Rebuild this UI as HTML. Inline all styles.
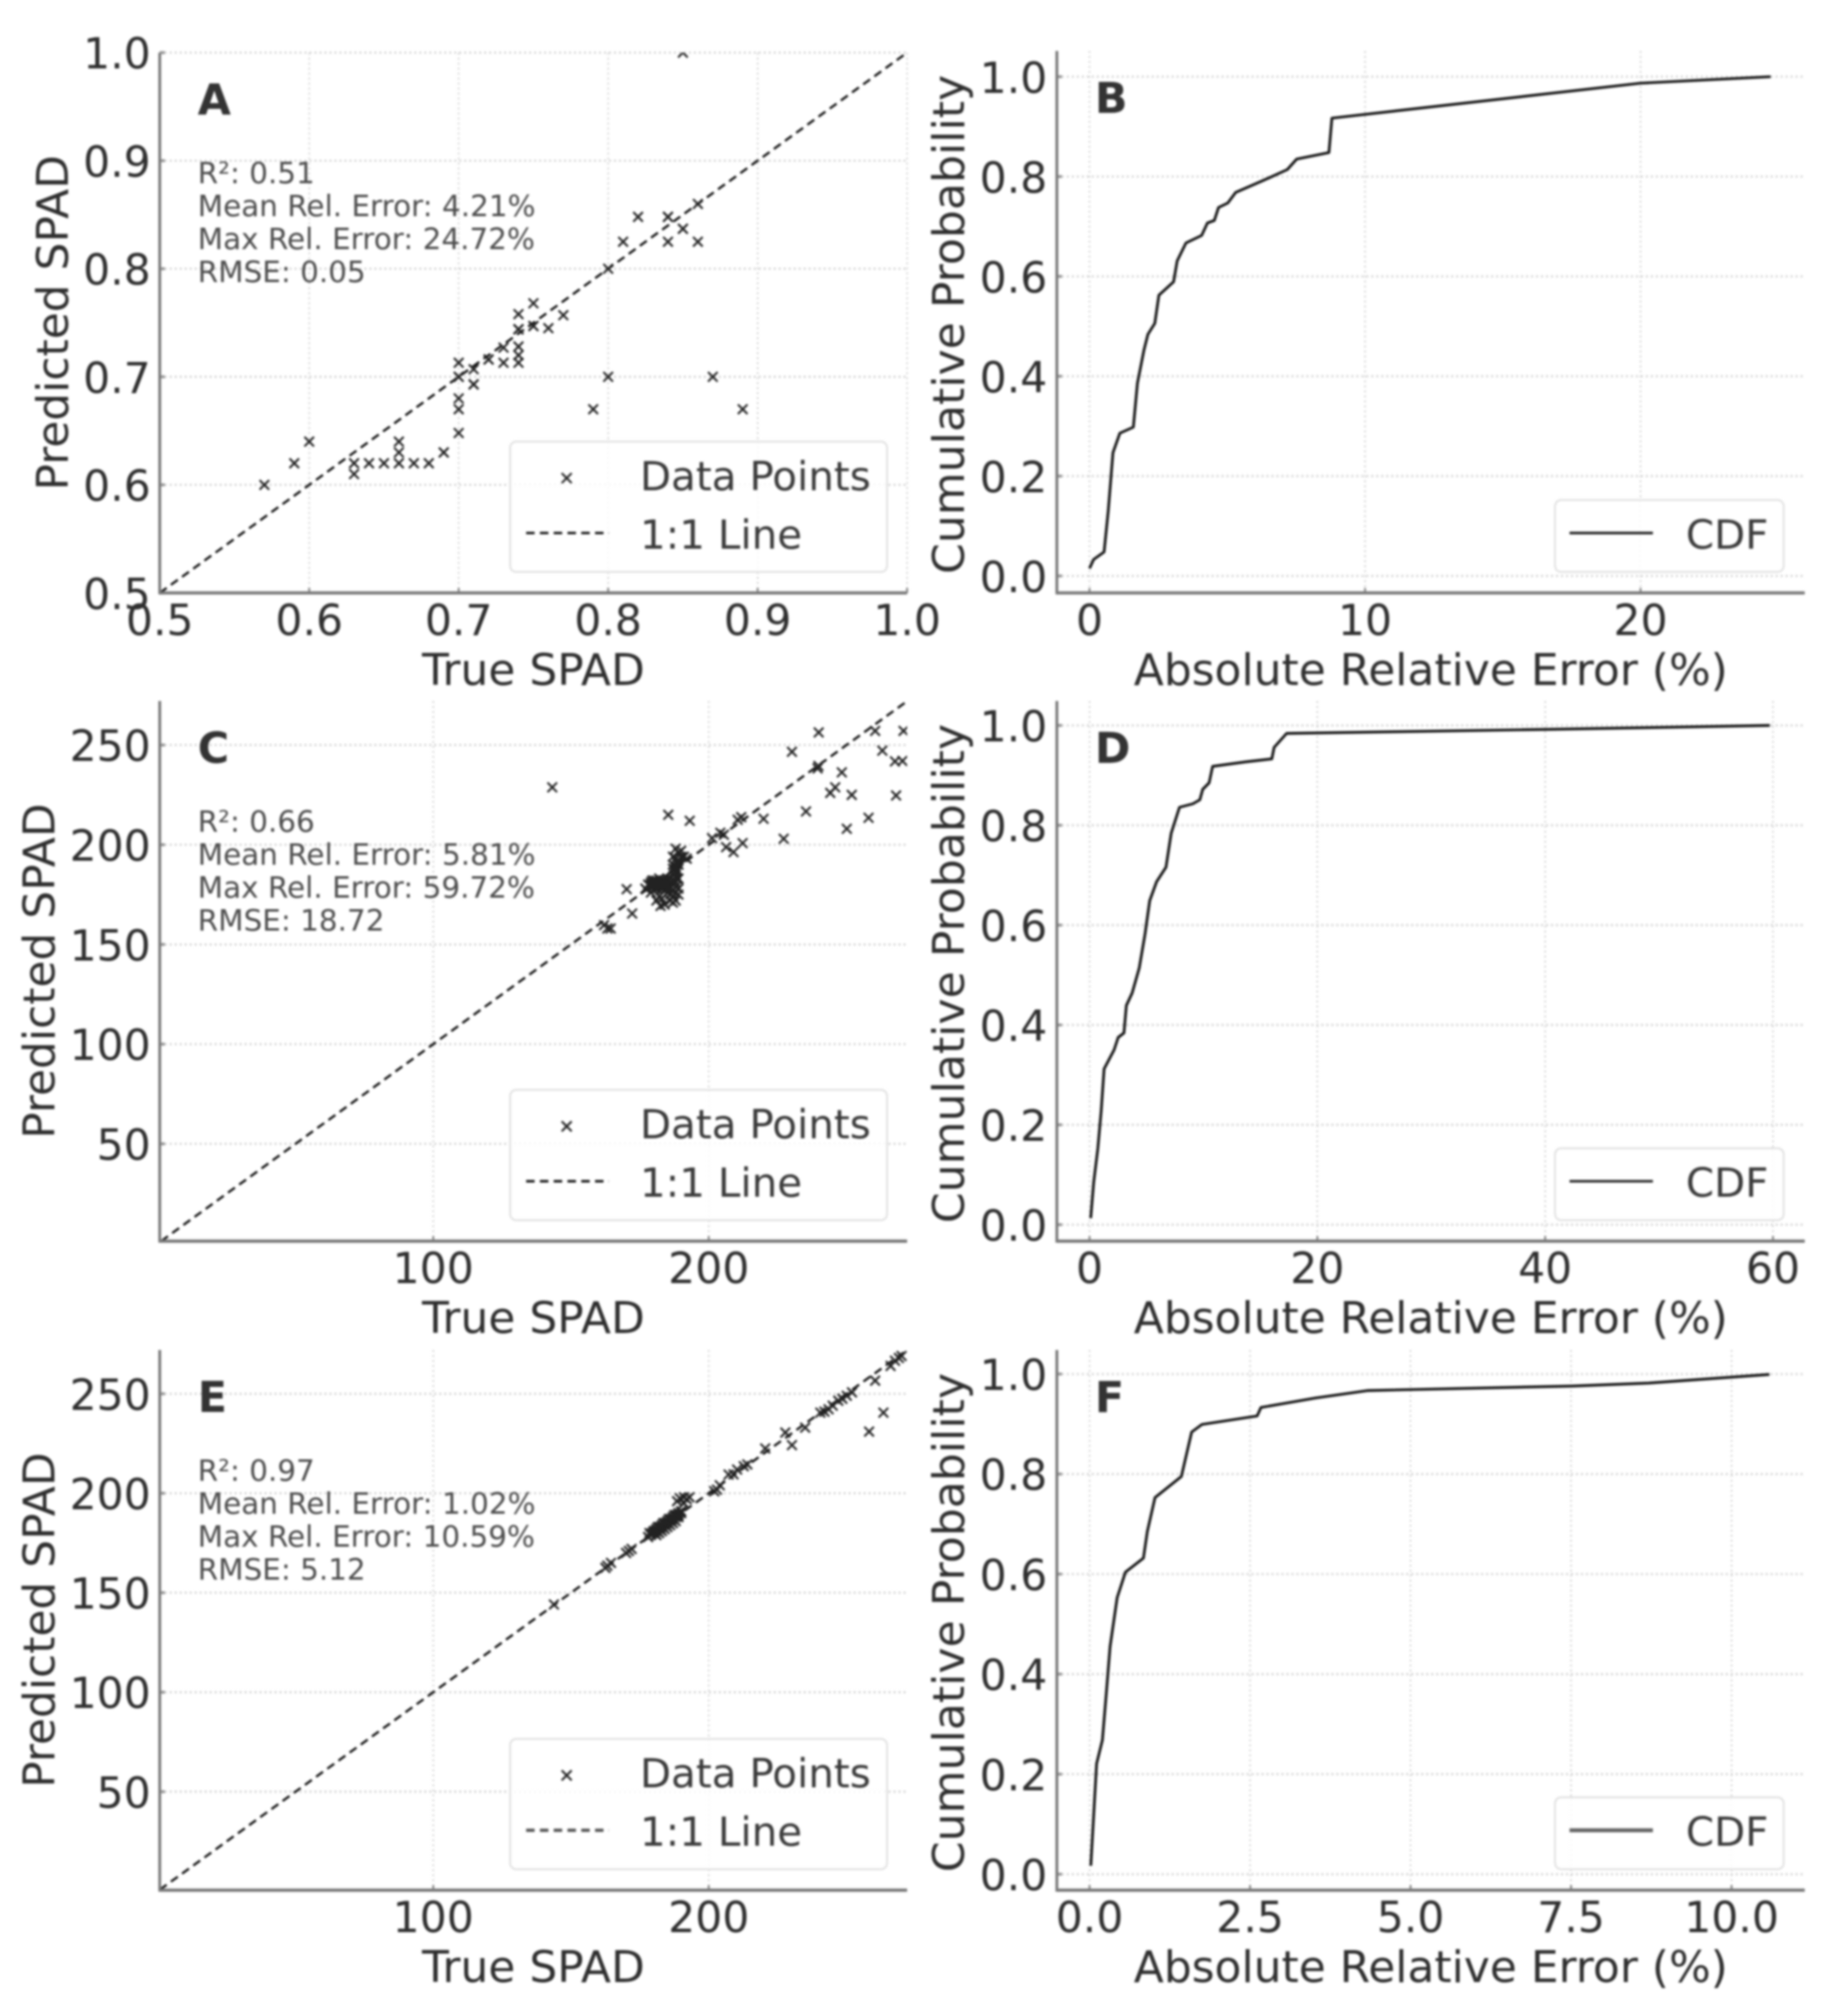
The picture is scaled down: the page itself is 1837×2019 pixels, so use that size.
<!DOCTYPE html>
<html lang="en">
<head>
<meta charset="utf-8">
<title>SPAD prediction scatter and CDF panels</title>
<style>
html,body{margin:0;padding:0;background:#fff;width:1837px;height:2019px;overflow:hidden}
svg{display:block;filter:blur(1px);font-family:"DejaVu Sans","Liberation Sans",sans-serif}
</style>
</head>
<body>
<svg id="figure" xmlns="http://www.w3.org/2000/svg" width="1837" height="2019" viewBox="0 0 1837 2019"></svg>
<script>
/* ---------- Panel A scatter ---------- */
var trueA = [0.57,0.59,0.60,0.63,0.63,0.64,0.65,0.66,0.66,0.66,0.67,0.68,0.69,0.69,0.70,0.70,0.70,0.70,0.70,0.70,0.71,0.71,0.71,0.72,0.72,0.73,0.73,0.74,0.74,0.74,0.74,0.74,0.74,0.74,0.75,0.75,0.75,0.76,0.77,0.79,0.80,0.80,0.81,0.82,0.84,0.84,0.84,0.85,0.85,0.86,0.86,0.85,0.87,0.89];
var predA = [0.60,0.62,0.64,0.62,0.61,0.62,0.62,0.62,0.63,0.64,0.62,0.62,0.63,0.63,0.648,0.67,0.68,0.70,0.70,0.713,0.693,0.693,0.707,0.716,0.716,0.727,0.713,0.713,0.72,0.728,0.744,0.744,0.744,0.758,0.768,0.747,0.747,0.745,0.757,0.67,0.70,0.80,0.825,0.848,0.848,0.848,0.825,0.837,0.837,0.825,0.86,1.00,0.70,0.67];
/* ---------- Panel C scatter ---------- */
var trueC = [143.2,185.3,193.1,170.2,172.2,163.2,162,164.4,182.5,230.2,239.9,260.4,270.7,263,267.6,270.3,239.5,239.8,248.3,245.9,244.1,251.9,268,235.3,258,250.1,227.2,219.9,211.8,210.5,212.3,209,206.3,204.2,205.5,201.2,178,179,180,180,180,181,181,181,182,182,182,182,183,183,183,184,184,185,185,185,186,186,186,187,187,187,188,188,188,188,183,184,182,181,179,177,189,189,189,188,188,188,187,189,189,188,187,190,190,189,188,191,192,187,179,179.5,180.5,180.5,181.5,181.5,182.5,182.5,183.5,183.5,184.5,184.5,179,180,181,182,183,184,185,186,187.5,188.5,187.5,188.5,188,188.5];
var predC = [228.8,215,212,177.7,165.5,158,159.7,158,169.3,246.6,256.3,257.1,257.1,247.2,241.8,242,238.3,239.5,236.3,228.8,226,225,224.7,216.7,213.5,208,203,213,213.8,212.5,200.8,196.3,198.8,206,205,203.3,180,181,179,181,182,178,180,182,179,180,181,183,178,180,181,179,182,176,180,183,172,175,178,171,174,177,172,176,179,181,173,170,174,172,176,178,175,178,183,184,186,188,188,190,192,193,190,194,197,196,198,194,193,194,179,182,178,180.5,179.5,181.5,179,182,179.5,182,178,181,180,180,180,180,180,180,178,178,182,183,185,187,189,191];
/* ---------- Panel E scatter ---------- */
var trueE = [143.8,162.5,163.2,164.5,170,171,172,178,179,180,180,181,181,182,182,183,183,184,184,185,185,186,186,187,187,188,188,189,189,190,190,188.5,189.5,191,191,192,193,202,203,204,207.2,209,210.3,212.7,214,220.5,227.8,230.2,235,240.5,242,243.5,245,247,248.5,250.1,252,258.2,260.4,263.4,266,267.6,269,270,178.5,179.5,180.5,181.5,182.5,183.5,184.5,185.5,186.5,187.5,188.5,189,188,187,186,185,184,183,182,181];
var predE = [144.1,162.5,163.6,165,170,171,172,178,179,180,181,181,182,182,183,183,184,184,185,185,186,186,187,187,188,188,189,189,190,190,191,196,197.5,195,198,197,198,201,201.8,204,209.4,209.5,211.9,213.6,214.5,222.5,230.5,224.2,233,240.5,241,242.2,244,246.5,247.5,249,250.7,231,256.6,240.5,264,266.6,268,269,180,180,181,183,183,185,185,187,187,189,189,188,186,185,184,183,182,181,180,179];
/* ---------- CDF curves ---------- */
var errB = [0,0.15,0.53,0.68,0.85,1.10,1.59,1.74,1.98,2.12,2.37,2.52,3.05,3.18,3.50,4.07,4.28,4.53,4.68,5.02,5.30,6.30,7.18,7.52,8.69,8.80,20.0,24.72];
var cdfB = [0.015,0.033,0.048,0.131,0.247,0.286,0.298,0.386,0.453,0.484,0.506,0.5625,0.589,0.631,0.667,0.682,0.707,0.712,0.738,0.747,0.768,0.792,0.814,0.835,0.848,0.917,0.987,1.0];
var errD = [0.10,0.36,0.72,1.02,1.28,2.15,2.51,3.02,3.23,3.74,4.36,4.87,5.28,5.89,6.71,7.17,7.89,9.07,9.68,9.94,10.5,10.8,13.7,16.0,16.2,17.3,40.0,59.72];
var cdfD = [0.013,0.085,0.152,0.228,0.312,0.350,0.375,0.384,0.439,0.464,0.514,0.582,0.649,0.687,0.716,0.784,0.836,0.843,0.851,0.872,0.885,0.918,0.927,0.933,0.956,0.984,0.992,1.0];
var errF = [0.02,0.11,0.20,0.26,0.32,0.43,0.56,0.84,0.90,1.02,1.43,1.59,1.75,2.61,2.67,3.52,4.34,7.52,8.71,10.59];
var cdfF = [0.017,0.221,0.268,0.361,0.455,0.553,0.604,0.632,0.685,0.753,0.795,0.884,0.899,0.916,0.933,0.952,0.967,0.976,0.982,0.999];
/* ---------- Ticks ---------- */
var ticksA = [0.5,0.6,0.7,0.8,0.9,1.0];
var ticksAxisSpadX = [100,200];
var ticksAxisSpadY = [50,100,150,200,250];
var ticksCdfY = [0.0,0.2,0.4,0.6,0.8,1.0];
var ticksErrB = [0,10,20];
var ticksErrD = [0,20,40,60];
var ticksErrF = [0.0,2.5,5.0,7.5,10.0];
/* ---------- Printed stats ---------- */
var statsA = ["R\u00B2: 0.51","Mean Rel. Error: 4.21%","Max Rel. Error: 24.72%","RMSE: 0.05"];
var statsC = ["R\u00B2: 0.66","Mean Rel. Error: 5.81%","Max Rel. Error: 59.72%","RMSE: 18.72"];
var statsE = ["R\u00B2: 0.97","Mean Rel. Error: 1.02%","Max Rel. Error: 10.59%","RMSE: 5.12"];

var NS = "http://www.w3.org/2000/svg";
var root = document.getElementById("figure");

function make(tag, attrs, parent, text){
  var e = document.createElementNS(NS, tag);
  for (var k in attrs) e.setAttribute(k, attrs[k]);
  if (text !== undefined) e.textContent = text;
  (parent || root).appendChild(e);
  return e;
}
function scale(d0, d1, p0, p1){
  return function(v){ return p0 + (v - d0) * (p1 - p0) / (d1 - d0); };
}
function label(el, name){
  
  
  return el;
}

var TICK_FILL = "#2e2e2e";

function drawAxes(g, ax, x, y, xticks, yticks, fmtX, fmtY, idp){
  var i, e;
  for (i = 0; i < xticks.length; i++){
    var px = x(xticks[i]);
    e = make("line",{x1:px,x2:px,y1:ax.top,y2:ax.bottom,stroke:"#d9d9d9","stroke-width":1.8,"stroke-dasharray":"2 3"},g);
    label(e, idp + "-x-gridline");
    e = make("line",{x1:px,x2:px,y1:ax.bottom-5,y2:ax.bottom,stroke:"#888","stroke-width":2},g);
    label(e, idp + "-x-tick");
    e = make("text",{x:px,y:ax.bottom+42,"text-anchor":"middle","font-size":42.6,fill:TICK_FILL},g,fmtX(xticks[i]));
    label(e, idp + "-x-tick-label");
  }
  for (i = 0; i < yticks.length; i++){
    var py = y(yticks[i]);
    e = make("line",{x1:ax.left,x2:ax.right,y1:py,y2:py,stroke:"#d4d4d4","stroke-width":2.2,"stroke-dasharray":"2 3"},g);
    label(e, idp + "-y-gridline");
    e = make("line",{x1:ax.left,x2:ax.left+5,y1:py,y2:py,stroke:"#999","stroke-width":3},g);
    label(e, idp + "-y-tick");
    e = make("text",{x:ax.tickRight,y:py+16,"text-anchor":"end","font-size":42.6,fill:TICK_FILL},g,fmtY(yticks[i]));
    label(e, idp + "-y-tick-label");
  }
}
function drawSpines(g, ax, idp){
  var e = make("line",{x1:ax.left,x2:ax.left,y1:ax.top,y2:ax.bottom+1.5,stroke:"#777","stroke-width":2.8},g);
  label(e, idp + "-left-spine");
  e = make("line",{x1:ax.left,x2:ax.right,y1:ax.bottom,y2:ax.bottom,stroke:"#777","stroke-width":3.2},g);
  label(e, idp + "-bottom-spine");
}
function drawTitles(g, ax, xTitle, yTitle, yLen, yBase, yShift, idp){
  var cx = (ax.left + ax.right) / 2, cy = (ax.top + ax.bottom) / 2 + yShift;
  var e = make("text",{x:cx,y:ax.bottom+92,"text-anchor":"middle","font-size":44,fill:TICK_FILL},g,xTitle);
  label(e, idp + "-x-axis-title");
  e = make("text",{transform:"translate("+yBase+","+cy+") rotate(-90)",x:-yLen/2,y:0,"font-size":44,fill:TICK_FILL,textLength:yLen,lengthAdjust:"spacingAndGlyphs"},g,yTitle);
  label(e, idp + "-y-axis-title");
}
function panelLetter(g, ax, ch, lx, idp){
  var e = make("text",{x:lx,y:ax.top+62,"font-size":43,"font-weight":"bold",fill:"#333"},g,ch);
  label(e, idp + "-panel-letter");
}
function xMark(g, px, py, r, name){
  var e = make("path",{d:"M"+(px-r)+" "+(py-r)+"L"+(px+r)+" "+(py+r)+"M"+(px-r)+" "+(py+r)+"L"+(px+r)+" "+(py-r),stroke:"#222","stroke-width":2,fill:"none"},g);
  label(e, name);
}
function scatterLegend(g, ax, idp){
  var b = ax.bottom;
  var e = make("rect",{x:ax.left+351,y:b-151.5,width:377.5,height:130.5,rx:6,fill:"#fff","fill-opacity":0.82,stroke:"#e3e3e3","stroke-width":2},g);
  label(e, idp + "-legend-box");
  xMark(g, ax.left+407.6, b-115, 5, idp + "-legend-marker");
  e = make("text",{x:ax.left+481,y:b-103,"font-size":40.5,fill:"#3a3a3a"},g,"Data Points");
  label(e, idp + "-legend-label-data-points");
  var faded = idp === "panel-e";
  e = make("line",{x1:ax.left+367,x2:ax.left+450,y1:b-60,y2:b-60,stroke:faded?"#555":"#111","stroke-width":faded?3.2:2.4,"stroke-dasharray":"8.5 5.3"},g);
  label(e, idp + "-legend-line-sample");
  e = make("text",{x:ax.left+481,y:b-44.5,"font-size":40.5,fill:"#3a3a3a"},g,"1:1 Line");
  label(e, idp + "-legend-label-one-to-one");
}
function cdfLegend(g, ax, idp){
  var b = ax.bottom;
  var e = make("rect",{x:ax.left+499,y:b-93,width:229,height:72,rx:6,fill:"#fff","fill-opacity":0.82,stroke:"#e3e3e3","stroke-width":2},g);
  label(e, idp + "-legend-box");
  var faded = idp === "panel-f";
  e = make("line",{x1:ax.left+513.5,x2:ax.left+597,y1:b-60,y2:b-60,stroke:faded?"#666":"#222","stroke-width":faded?4:2.6},g);
  label(e, idp + "-legend-line-sample");
  e = make("text",{x:ax.left+630,y:b-44.5,"font-size":40.5,fill:"#3a3a3a"},g,"CDF");
  label(e, idp + "-legend-label-cdf");
}
function axesClip(g, ax, idp){
  var c = make("clipPath",{id:idp+"-clip"},g);
  make("rect",{x:ax.left,y:ax.top,width:ax.right-ax.left,height:ax.bottom-ax.top},c);
  return "url(#"+idp+"-clip)";
}
function scatterPanel(idp, ax, dom, trueV, predV, xticks, yticks, fmt, stats, ch, yBase){
  var g = make("g",{},root);
  label(g, idp);
  var x = scale(dom[0],dom[1],ax.left,ax.right), y = scale(dom[2],dom[3],ax.bottom,ax.top);
  drawAxes(g, ax, x, y, xticks, yticks, fmt, fmt, idp);
  var clip = axesClip(g, ax, idp);
  var lo = Math.max(dom[0],dom[2]), hi = Math.min(dom[1],dom[3]);
  var e = make("line",{x1:x(lo),y1:y(lo),x2:x(hi),y2:y(hi),stroke:"#111","stroke-width":2.3,"stroke-dasharray":"8.5 5.3"},g);
  label(e, idp + "-one-to-one-line");
  var marks = make("g",{"clip-path":clip},g);
  label(marks, idp + "-data-points");
  for (var i = 0; i < trueV.length; i++){
    xMark(marks, x(trueV[i]), y(predV[i]), 4.8, idp + "-data-point");
  }
  drawSpines(g, ax, idp);
  panelLetter(g, ax, ch, ax.left+38, idp);
  for (var s = 0; s < stats.length; s++){
    e = make("text",{x:ax.left+38,y:ax.top+131+33*s,"font-size":29.5,fill:"#4d4d4d"},g,stats[s]);
    label(e, idp + "-stat-line");
  }
  drawTitles(g, ax, "True SPAD", "Predicted SPAD", 336, yBase, 0, idp);
  scatterLegend(g, ax, idp);
}
function cdfPanel(idp, ax, dom, err, cdf, xticks, fmtX, ch){
  var g = make("g",{},root);
  label(g, idp);
  var x = scale(dom[0],dom[1],ax.left,ax.right), y = scale(dom[2],dom[3],ax.bottom,ax.top);
  drawAxes(g, ax, x, y, xticks, ticksCdfY, fmtX, function(v){return v.toFixed(1);}, idp);
  var pts = [];
  for (var i = 0; i < err.length; i++){ pts.push(x(err[i]).toFixed(1)+","+y(cdf[i]).toFixed(1)); }
  var e = make("polyline",{points:pts.join(" "),fill:"none",stroke:"#111","stroke-width":2.7,"stroke-linejoin":"round"},g);
  label(e, idp + "-cdf-line");
  drawSpines(g, ax, idp);
  panelLetter(g, ax, ch, ax.left+38, idp);
  drawTitles(g, ax, "Absolute Relative Error (%)", "Cumulative Probability", 500, 965.5, 2.5, idp);
  cdfLegend(g, ax, idp);
}
function fmt1(v){ return v.toFixed(1); }
function fmt0(v){ return String(v); }

var axA = {left:160,right:908.6,top:52.7,bottom:593.8,tickRight:151};
var axC = {left:160,right:908.6,top:702,bottom:1243,tickRight:151};
var axE = {left:160,right:908.6,top:1352,bottom:1893,tickRight:151};
var axB = {left:1058.6,right:1807.7,top:51,bottom:593.8,tickRight:1049};
var axD = {left:1058.6,right:1807.7,top:702,bottom:1243,tickRight:1049};
var axF = {left:1058.6,right:1807.7,top:1352,bottom:1893,tickRight:1049};

scatterPanel("panel-a", axA, [0.5,1.0,0.5,1.0], trueA, predA, ticksA, ticksA, fmt1, statsA, "A", 68);
cdfPanel("panel-b", axB, [-1.185,25.96,-0.034,1.0516], errB, cdfB, ticksErrB, fmt0, "B");
scatterPanel("panel-c", axC, [0.72,272,1.2,272.1], trueC, predC, ticksAxisSpadX, ticksAxisSpadY, fmt0, statsC, "C", 54.6);
cdfPanel("panel-d", axD, [-2.87,62.79,-0.033,1.049], errD, cdfD, ticksErrD, fmt0, "D");
scatterPanel("panel-e", axE, [0.72,272,0.5,272], trueE, predE, ticksAxisSpadX, ticksAxisSpadY, fmt0, statsE, "E", 54.6);
cdfPanel("panel-f", axF, [-0.509,11.14,-0.032,1.048], errF, cdfF, ticksErrF, fmt1, "F");
</script>
</body>
</html>
